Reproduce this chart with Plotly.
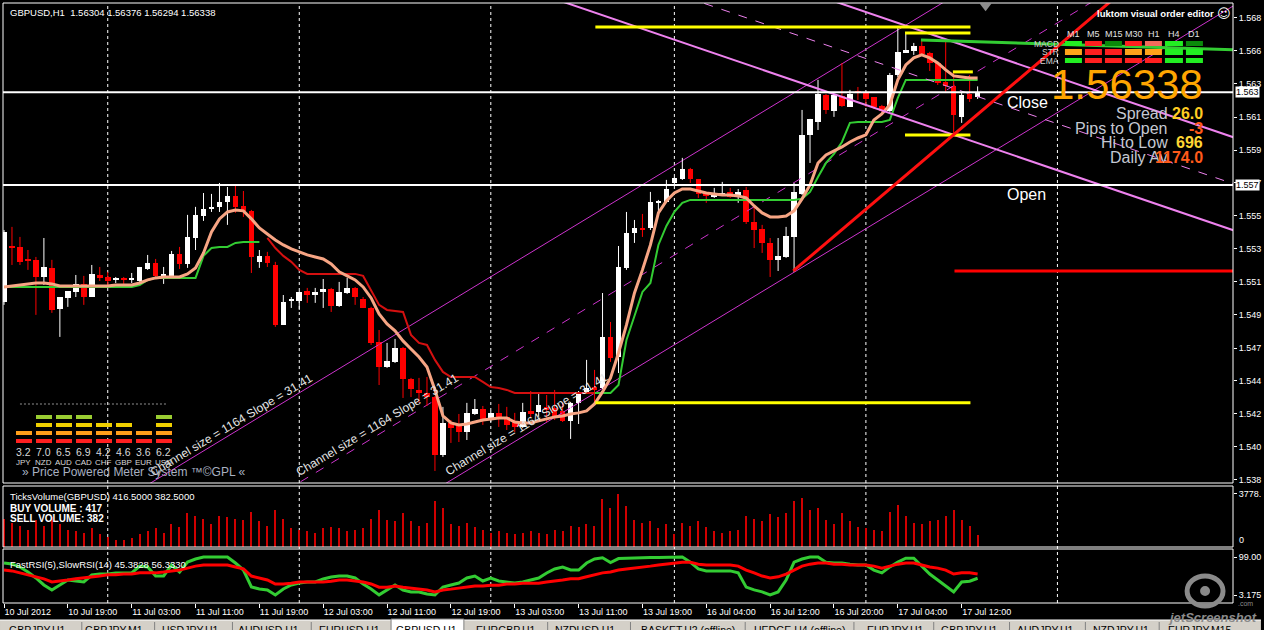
import plotly.graph_objects as go

FONT = "Liberation Sans, Arial, sans-serif"

# ---------------- data (GBPUSD H1, bar 0 = 10 Jul 2012 11:00) ----------------
DAY_SEGMENTS = [("10 Jul", 11, 23), ("11 Jul", 0, 23), ("12 Jul", 0, 23),
                ("13 Jul", 0, 22), ("16 Jul", 0, 23), ("17 Jul", 0, 14)]
TIMES = [f"{d} {h:02d}:00" for d, h0, h1 in DAY_SEGMENTS for h in range(h0, h1 + 1)]

TICK_TIMES = ["10 Jul 11:00", "10 Jul 19:00", "11 Jul 03:00", "11 Jul 11:00", "11 Jul 19:00",
              "12 Jul 03:00", "12 Jul 11:00", "12 Jul 19:00", "13 Jul 03:00", "13 Jul 11:00",
              "13 Jul 19:00", "16 Jul 04:00", "16 Jul 12:00", "16 Jul 20:00", "17 Jul 04:00",
              "17 Jul 12:00"]
TICK_TEXT = ["10 Jul 2012", "10 Jul 19:00", "11 Jul 03:00", "11 Jul 11:00", "11 Jul 19:00",
             "12 Jul 03:00", "12 Jul 11:00", "12 Jul 19:00", "13 Jul 03:00", "13 Jul 11:00",
             "13 Jul 19:00", "16 Jul 04:00", "16 Jul 12:00", "16 Jul 20:00", "17 Jul 04:00",
             "17 Jul 12:00"]

OPEN = [1.54977, 1.55340, 1.55334, 1.55256, 1.55250, 1.55139, 1.55198, 1.54932, 1.55003, 1.55042,
        1.55094, 1.55009, 1.55152, 1.55139, 1.55120, 1.55133, 1.55120, 1.55113, 1.55191, 1.55230,
        1.55146, 1.55146, 1.55289, 1.55224, 1.55392, 1.55535, 1.55581, 1.55594, 1.55626, 1.55665,
        1.55600, 1.55568, 1.55237, 1.55276, 1.55217, 1.54828, 1.54984, 1.54984, 1.55048, 1.55022,
        1.55042, 1.55061, 1.54951, 1.55035, 1.55068, 1.54996, 1.54938, 1.54717, 1.54555, 1.54588,
        1.54678, 1.54477, 1.54406, 1.54386, 1.54360, 1.53984, 1.54192, 1.54179, 1.54133, 1.54250,
        1.54283, 1.54218, 1.54257, 1.54231, 1.54198, 1.54166, 1.54270, 1.54263, 1.54296, 1.54289,
        1.54270, 1.54205, 1.54322, 1.54393, 1.54425, 1.54419, 1.54750, 1.54620, 1.55198, 1.55425,
        1.55457, 1.55457, 1.55620, 1.55626, 1.55749, 1.55775, 1.55840, 1.55775, 1.55684, 1.55658,
        1.55678, 1.55691, 1.55658, 1.55704, 1.55496, 1.55451, 1.55360, 1.55250, 1.55269, 1.55399,
        1.55678, 1.56061, 1.56145, 1.56320, 1.56217, 1.56314, 1.56243, 1.56340, 1.56333, 1.56307,
        1.56249, 1.56217, 1.56450, 1.56593, 1.56606, 1.56638, 1.56593, 1.56528, 1.56405, 1.56379,
        1.56178, 1.56327, 1.56304]
HIGH = [1.55444, 1.55464, 1.55399, 1.55314, 1.55269, 1.55392, 1.55250, 1.55009, 1.55048, 1.55152,
        1.55146, 1.55217, 1.55204, 1.55172, 1.55139, 1.55139, 1.55165, 1.55204, 1.55282, 1.55256,
        1.55204, 1.55308, 1.55334, 1.55542, 1.55594, 1.55684, 1.55678, 1.55749, 1.55723, 1.55736,
        1.55697, 1.55574, 1.55314, 1.55302, 1.55237, 1.55022, 1.55009, 1.55048, 1.55068, 1.55068,
        1.55126, 1.55068, 1.55107, 1.55133, 1.55074, 1.55009, 1.54945, 1.54795, 1.54711, 1.54737,
        1.54685, 1.54484, 1.54484, 1.54490, 1.54367, 1.54296, 1.54211, 1.54250, 1.54322, 1.54347,
        1.54302, 1.54270, 1.54315, 1.54296, 1.54257, 1.54322, 1.54399, 1.54386, 1.54373, 1.54406,
        1.54322, 1.54328, 1.54399, 1.54601, 1.54536, 1.55035, 1.54847, 1.55340, 1.55561, 1.55509,
        1.55548, 1.55691, 1.55639, 1.55769, 1.55788, 1.55912, 1.55847, 1.55775, 1.55691, 1.55717,
        1.55756, 1.55717, 1.55710, 1.55723, 1.55607, 1.55477, 1.55392, 1.55392, 1.55464, 1.55749,
        1.56223, 1.56165, 1.56418, 1.56327, 1.56327, 1.56528, 1.56353, 1.56372, 1.56340, 1.56307,
        1.56256, 1.56463, 1.56762, 1.56723, 1.56658, 1.56671, 1.56600, 1.56528, 1.56664, 1.56463,
        1.56333, 1.56450, 1.56376]
LOW = [1.54958, 1.55217, 1.55217, 1.55185, 1.54893, 1.55087, 1.54906, 1.54750, 1.54945, 1.55009,
       1.54958, 1.55009, 1.55113, 1.55087, 1.55100, 1.55094, 1.55100, 1.55107, 1.55185, 1.55126,
       1.55094, 1.55133, 1.55191, 1.55198, 1.55314, 1.55503, 1.55561, 1.55561, 1.55477, 1.55555,
       1.55529, 1.55165, 1.55198, 1.55204, 1.54815, 1.54828, 1.54938, 1.54925, 1.54971, 1.54971,
       1.54938, 1.54912, 1.54945, 1.55029, 1.54958, 1.54938, 1.54698, 1.54438, 1.54549, 1.54581,
       1.54354, 1.54360, 1.54322, 1.54302, 1.53880, 1.53971, 1.54062, 1.54068, 1.54081, 1.54244,
       1.54179, 1.54198, 1.54166, 1.54146, 1.54133, 1.54159, 1.54224, 1.54231, 1.54198, 1.54211,
       1.54198, 1.54088, 1.54185, 1.54386, 1.54322, 1.54412, 1.54588, 1.54516, 1.55185, 1.55360,
       1.55399, 1.55444, 1.55561, 1.55620, 1.55736, 1.55769, 1.55749, 1.55652, 1.55620, 1.55652,
       1.55671, 1.55652, 1.55620, 1.55483, 1.55327, 1.55295, 1.55139, 1.55178, 1.55263, 1.55172,
       1.55671, 1.55879, 1.56093, 1.56197, 1.56178, 1.56243, 1.56243, 1.56288, 1.56243, 1.56230,
       1.56204, 1.56210, 1.56437, 1.56593, 1.56580, 1.56574, 1.56476, 1.56385, 1.56333, 1.56061,
       1.56139, 1.56275, 1.56294]
CLOSE = [1.55431, 1.55327, 1.55237, 1.55243, 1.55139, 1.55204, 1.54925, 1.55009, 1.55048, 1.55094,
         1.55009, 1.55159, 1.55133, 1.55113, 1.55126, 1.55120, 1.55126, 1.55204, 1.55230, 1.55146,
         1.55152, 1.55289, 1.55224, 1.55399, 1.55542, 1.55581, 1.55594, 1.55626, 1.55665, 1.55594,
         1.55568, 1.55269, 1.55276, 1.55230, 1.54828, 1.54977, 1.54996, 1.55042, 1.55022, 1.55042,
         1.55061, 1.54951, 1.55042, 1.55068, 1.55009, 1.54938, 1.54711, 1.54555, 1.54594, 1.54678,
         1.54477, 1.54412, 1.54386, 1.54360, 1.53984, 1.54192, 1.54159, 1.54133, 1.54257, 1.54283,
         1.54211, 1.54257, 1.54224, 1.54179, 1.54166, 1.54263, 1.54250, 1.54309, 1.54276, 1.54231,
         1.54205, 1.54322, 1.54393, 1.54419, 1.54406, 1.54750, 1.54614, 1.55204, 1.55425, 1.55457,
         1.55444, 1.55626, 1.55633, 1.55710, 1.55782, 1.55840, 1.55775, 1.55678, 1.55665, 1.55684,
         1.55684, 1.55658, 1.55691, 1.55496, 1.55444, 1.55360, 1.55250, 1.55276, 1.55405, 1.55691,
         1.56061, 1.56165, 1.56327, 1.56223, 1.56320, 1.56249, 1.56327, 1.56333, 1.56294, 1.56243,
         1.56217, 1.56450, 1.56600, 1.56612, 1.56638, 1.56587, 1.56528, 1.56398, 1.56379, 1.56191,
         1.56320, 1.56294, 1.56338]

EMA_FAST = [1.55074, 1.55081, 1.55087, 1.55094, 1.55100, 1.55100, 1.55094, 1.55081, 1.55081, 1.55081,
            1.55081, 1.55081, 1.55081, 1.55081, 1.55087, 1.55087, 1.55087, 1.55100, 1.55120, 1.55133,
            1.55139, 1.55139, 1.55139, 1.55159, 1.55198, 1.55295, 1.55431, 1.55516, 1.55561, 1.55574,
            1.55568, 1.55516, 1.55457, 1.55418, 1.55379, 1.55347, 1.55321, 1.55302, 1.55282, 1.55269,
            1.55256, 1.55224, 1.55172, 1.55146, 1.55120, 1.55074, 1.55003, 1.54899, 1.54834, 1.54789,
            1.54724, 1.54672, 1.54620, 1.54555, 1.54406, 1.54237, 1.54192, 1.54179, 1.54185, 1.54198,
            1.54211, 1.54218, 1.54224, 1.54224, 1.54198, 1.54192, 1.54192, 1.54205, 1.54218, 1.54231,
            1.54237, 1.54250, 1.54257, 1.54270, 1.54315, 1.54393, 1.54484, 1.54646, 1.54828, 1.55035,
            1.55185, 1.55347, 1.55555, 1.55633, 1.55684, 1.55710, 1.55710, 1.55697, 1.55684, 1.55678,
            1.55671, 1.55671, 1.55665, 1.55652, 1.55600, 1.55555, 1.55529, 1.55529, 1.55535, 1.55568,
            1.55646, 1.55736, 1.55879, 1.55931, 1.55957, 1.55983, 1.56015, 1.56041, 1.56061, 1.56158,
            1.56197, 1.56256, 1.56418, 1.56515, 1.56561, 1.56580, 1.56561, 1.56528, 1.56483, 1.56444,
            1.56437, 1.56431, 1.56431]

N = None
STOP_UP = [1.55074] * 17 + [1.55087, 1.55120] + [1.55133] * 6 + \
          [1.55276, 1.55327, 1.55334, 1.55334, 1.55360, 1.55366, 1.55366, 1.55366] + [N] * 41 + \
          [1.54386, 1.54386, 1.54386, 1.54438, 1.54730, 1.54886, 1.55042, 1.55100, 1.55347, 1.55470,
           1.55561, 1.55620] + [1.55639] * 14 + \
          [1.55646, 1.55691, 1.55788, 1.55879, 1.55938, 1.56015, 1.56139] + [1.56145] * 4 + \
          [1.56158, 1.56301] + [1.56418] * 10
STOP_DN = [N] * 33 + [1.55392, 1.55327, 1.55276, 1.55237, 1.55185] + [1.55159] * 7 + \
          [1.55146, 1.55055, 1.54958, 1.54925, 1.54919, 1.54912, 1.54763, 1.54711, 1.54698, 1.54601,
           1.54523] + [1.54490] * 4 + [1.54458, 1.54425, 1.54419, 1.54406] + [1.54386] * 11 + [N] * 48

VOLUME = [2000, 1700, 1450, 1200, 1900, 1500, 2100, 1600, 1200, 1100,
          1000, 1300, 900, 700, 500, 450, 600, 900, 1100, 1300,
          1000, 1600, 1400, 2400, 2200, 2000, 1600, 2200, 2100, 2000,
          1900, 2500, 1800, 1500, 2600, 2000, 1300, 1200, 1100, 1000,
          1300, 1400, 1300, 1100, 1200, 1300, 2000, 2600, 1900, 1800,
          2400, 1800, 1500, 1700, 3300, 2800, 1600, 1500, 1700, 1400,
          1200, 1000, 1100, 1000, 900, 1000, 1100, 1000, 900, 1200,
          1100, 1500, 1400, 1600, 1500, 3400, 2800, 3778, 2900, 1900,
          1700, 1800, 1300, 1600, 900, 1700, 1500, 1800, 1400, 1100,
          1000, 1100, 1200, 2200, 2000, 1800, 2300, 2100, 2400, 3300,
          3500, 2600, 2800, 1900, 1600, 2400, 1800, 1400, 1300, 1200,
          1100, 2500, 3000, 2200, 1700, 1600, 1800, 1900, 2200, 2600,
          1900, 1500, 799]

RSI_FAST = [83.9, 81.4, 73.8, 61.2, 46.1, 28.4, 15.8, 28.4, 41.0, 38.5,
            36.0, 53.6, 56.2, 56.2, 58.7, 58.7, 58.7, 76.3, 73.8, 51.1,
            51.1, 78.8, 61.2, 86.4, 94.0, 99.0, 99.0, 98.5, 99.0, 83.9,
            66.2, 23.4, 18.4, 15.8, 3.2, 18.4, 28.4, 33.5, 36.0, 36.0,
            43.6, 48.6, 51.1, 51.1, 46.1, 31.0, 18.4, 3.5, 15.8, 28.4,
            15.8, 10.8, 10.8, 5.8, 3.175, 23.4, 28.4, 33.5, 46.1, 51.1,
            38.5, 46.1, 38.5, 36.0, 33.5, 36.0, 41.0, 46.1, 58.7, 68.8,
            73.8, 66.2, 66.2, 83.9, 94.0, 97.0, 85.0, 95.0, 96.0, 97.0,
            98.0, 98.0, 98.0, 98.0, 99.0, 99.0, 86.0, 69.0, 64.0, 64.0,
            64.0, 64.0, 59.0, 23.0, 16.0, 11.0, 3.5, 11.0, 41.0, 86.0,
            94.0, 99.0, 99.0, 86.0, 84.0, 84.0, 81.0, 79.0, 79.0, 66.0,
            59.0, 74.0, 86.0, 96.0, 96.0, 76.0, 56.0, 41.0, 26.0, 11.0,
            36.0, 38.0, 45.3828]
RSI_SLOW = [66, 64, 59, 54, 49, 44, 36, 38, 41, 44,
            46, 49, 51, 54, 54, 56, 56, 59, 59, 59,
            61, 64, 66, 71, 76, 79, 79, 79, 79, 74,
            69, 51, 46, 41, 31, 31, 33, 36, 36, 36,
            36, 38, 41, 41, 38, 36, 31, 23, 23, 26,
            23, 21, 18, 16, 11, 16, 18, 21, 23, 26,
            26, 28, 28, 31, 31, 33, 33, 33, 36, 38,
            41, 44, 44, 49, 54, 59, 61, 66, 69, 71,
            74, 76, 79, 81, 84, 86, 86, 81, 79, 79,
            79, 79, 76, 66, 59, 51, 46, 49, 56, 66,
            76, 81, 84, 84, 81, 81, 79, 79, 79, 76,
            71, 76, 81, 84, 84, 79, 74, 71, 66, 56,
            59, 59, 56.333]

PRICE_TICK_TEXT = ["1.568", "1.566", "1.563", "1.561", "1.559", "1.557", "1.555", "1.553",
                   "1.551", "1.549", "1.547", "1.544", "1.542", "1.540", "1.538"]
PRICE_TICK_VALS = [1.56820, 1.56606, 1.56392, 1.56177, 1.55963, 1.55749, 1.55535, 1.55321,
                   1.55107, 1.54893, 1.54678, 1.54464, 1.54250, 1.54036, 1.53822]

LAST_CLOSE = 1.56338
DAY_OPEN = 1.55736

# drawn chart objects
ASC_CH = dict(bar=62, upper=1.55172, slope=0.000314, size=0.01164)
DESC_CH = dict(bar=124.5, upper=1.56567, slope=-0.0001765, size=0.00603)
TREND = dict(bar=98.9, price=1.55178, slope=0.00044)
YELLOW_LEVELS = [1.56762, 1.56723, 1.56470, 1.56061, 1.54322]
YELLOW_FROM = [74.1, 112.9, 118.9, 112.9, 74.1]
YELLOW_TO = [121.1, 121.1, 121.4, 121.1, 121.1]
RED_LEVEL = dict(price=1.55178, start=119.1)
GREEN_SEG = dict(x=[114.9, 154.5], y=[1.56677, 1.56612])

# info panel
PANEL_TF = ["M1", "M5", "M15", "M30", "H1", "H4", "D1"]
PANEL_ROWS = ["MACD", "STR", "EMA"]
PANEL_STATE = [[1, 0, 2, 0, 4, 1, 2],
               [3, 0, 0, 3, 3, 1, 1],
               [1, 0, 0, 0, 0, 1, 1]]
STATS_LABELS = ["Spread", "Pips to Open", "Hi to Low", "Daily Av"]
STATS_VALUES = ["26.0", "-3", "696", "1174.0"]

METER_CCY = ["JPY", "NZD", "AUD", "CAD", "CHF", "GBP", "EUR", "USD"]
METER_VAL = [3.2, 7.0, 6.5, 6.9, 4.2, 4.6, 3.6, 6.2]
METER_SEG = [2, 4, 4, 4, 3, 3, 2, 4]

TABS = ["GBPJPY,H1", "GBPJPY,M1", "USDJPY,H1", "AUDUSD,H1", "EURUSD,H1", "GBPUSD,H1",
        "EURGBP,H1", "NZDUSD,H1", "BASKET,H2 (offline)", "HEDGE,H4 (offline)", "EURJPY,H1",
        "GBPJPY,H1", "AUDJPY,H1", "NZDJPY,H1", "EURJPY,M15"]

# ---------------- layout geometry ----------------
W, H = 1264, 630
ML, MR, MT, MB = 3, 28, 3, 27
PW, PH = W - ML - MR, H - MT - MB


def fx(px):
    return (px - ML) / PW


def fy(py):
    return (H - MB - py) / PH


idx = list(range(len(OPEN)))
TICK_VALS = [TIMES.index(t) for t in TICK_TIMES]
DAY_STARTS = [i for i, t in enumerate(TIMES) if t.endswith(" 00:00")]
DAY_STARTS.append(DAY_STARTS[-1] + 24)

fig = go.Figure()

# ascending regression channel (thin magenta)
for k, dash in [(0, "solid"), (0.5, "dash"), (1, "solid")]:
    xs = [-40, 160]
    ys = [ASC_CH["upper"] - k * ASC_CH["size"] + ASC_CH["slope"] * (x - ASC_CH["bar"]) for x in xs]
    fig.add_trace(go.Scatter(x=xs, y=ys, mode="lines", line=dict(color="#cc33cc", width=1, dash=dash),
                             hoverinfo="skip"))

# candles
bull = [i for i in idx if CLOSE[i] >= OPEN[i]]
bear = [i for i in idx if CLOSE[i] < OPEN[i]]
for ids, col in [(bull, "#ffffff"), (bear, "#ff0000")]:
    wx, wy = [], []
    for i in ids:
        wx += [i, i, None]
        wy += [LOW[i], HIGH[i], None]
    fig.add_trace(go.Scatter(x=wx, y=wy, mode="lines", line=dict(color=col, width=1), hoverinfo="skip"))
    fig.add_trace(go.Bar(x=ids, base=[min(OPEN[i], CLOSE[i]) for i in ids],
                         y=[max(abs(CLOSE[i] - OPEN[i]), 0.00005) for i in ids],
                         width=0.7, marker=dict(color=col, line=dict(width=0)), hoverinfo="skip"))

# indicators on price
fig.add_trace(go.Scatter(x=idx, y=STOP_UP, mode="lines", line=dict(color="#33cc33", width=2),
                         connectgaps=False, hoverinfo="skip"))
fig.add_trace(go.Scatter(x=idx, y=STOP_DN, mode="lines", line=dict(color="#d41010", width=2),
                         connectgaps=False, hoverinfo="skip"))
fig.add_trace(go.Scatter(x=idx, y=EMA_FAST, mode="lines", line=dict(color="#f7a584", width=3),
                         hoverinfo="skip"))

# descending channel (violet)
for k, dash, wdt in [(0, "solid", 2), (0.5, "dash", 1), (1, "solid", 2)]:
    xs = [60, 160]
    ys = [DESC_CH["upper"] - k * DESC_CH["size"] + DESC_CH["slope"] * (x - DESC_CH["bar"]) for x in xs]
    fig.add_trace(go.Scatter(x=xs, y=ys, mode="lines",
                             line=dict(color="#ee82ee", width=wdt, dash=dash), hoverinfo="skip"))

# horizontal white lines (close / open)
for lvl in (LAST_CLOSE, DAY_OPEN):
    fig.add_trace(go.Scatter(x=[-5, 160], y=[lvl, lvl], mode="lines", line=dict(color="white", width=2),
                             hoverinfo="skip"))

# yellow levels
yx, yy = [], []
for lvl, a, b in zip(YELLOW_LEVELS, YELLOW_FROM, YELLOW_TO):
    yx += [a, b, None]
    yy += [lvl, lvl, None]
fig.add_trace(go.Scatter(x=yx, y=yy, mode="lines", line=dict(color="#ffff00", width=3), hoverinfo="skip"))

# green sloped segment
fig.add_trace(go.Scatter(x=GREEN_SEG["x"], y=GREEN_SEG["y"], mode="lines",
                         line=dict(color="#33cc33", width=3), hoverinfo="skip"))
# red level + trendline
fig.add_trace(go.Scatter(x=[RED_LEVEL["start"], 160], y=[RED_LEVEL["price"]] * 2, mode="lines",
                         line=dict(color="#ff0000", width=3), hoverinfo="skip"))
tx = [TREND["bar"], 160]
fig.add_trace(go.Scatter(x=tx, y=[TREND["price"] + TREND["slope"] * (x - TREND["bar"]) for x in tx],
                         mode="lines", line=dict(color="#ff1010", width=3), hoverinfo="skip"))
# grey arrow marker at top
fig.add_trace(go.Scatter(x=[123], y=[1.56896], mode="markers",
                         marker=dict(symbol="triangle-down", size=10, color="#8c8c8c"), hoverinfo="skip"))

# volume pane
fig.add_trace(go.Bar(x=idx, y=VOLUME, yaxis="y2", width=0.15,
                     marker=dict(color="#d00000", line=dict(width=0)), hoverinfo="skip"))

# RSI pane
fig.add_trace(go.Scatter(x=idx, y=RSI_FAST, yaxis="y3", mode="lines",
                         line=dict(color="#33cc33", width=3), hoverinfo="skip"))
fig.add_trace(go.Scatter(x=idx, y=RSI_SLOW, yaxis="y3", mode="lines",
                         line=dict(color="#ff0000", width=3), hoverinfo="skip"))

# info panel blocks (heatmap)
STATE_COLORS = ["#ff1f1f", "#22ee22", "#0a8a0a", "#ffa31a", "#f26b5b"]
cs = []
for k, c in enumerate(STATE_COLORS):
    cs += [[k / 5, c], [(k + 1) / 5, c]]
fig.add_trace(go.Heatmap(z=PANEL_STATE, x=list(range(len(PANEL_TF))), y=list(range(len(PANEL_ROWS))),
                         xaxis="x2", yaxis="y4", zmin=-0.5, zmax=4.5, colorscale=cs, showscale=False,
                         xgap=3, ygap=3, hoverinfo="skip"))

# currency meter
LEVEL_COLORS = ["#ff2020", "#ff9f1a", "#f0d000", "#9acd32"]
for lvl in range(1, 5):
    xs = [i for i in range(len(METER_CCY)) if METER_SEG[i] >= lvl]
    fig.add_trace(go.Bar(x=xs, y=[0.55] * len(xs), base=[lvl - 1 + 0.22] * len(xs), width=0.8,
                         xaxis="x3", yaxis="y5", marker=dict(color=LEVEL_COLORS[lvl - 1], line=dict(width=0)),
                         hoverinfo="skip"))

# ---------------- layout ----------------
axis_common = dict(showgrid=False, zeroline=False, fixedrange=True)
tickfont = dict(color="white", size=9, family=FONT)

fig.update_layout(
    width=W, height=H, margin=dict(l=ML, r=MR, t=MT, b=MB),
    paper_bgcolor="black", plot_bgcolor="rgba(0,0,0,0)",
    showlegend=False, barmode="overlay", bargap=0,
    font=dict(family=FONT, color="white"),
    xaxis=dict(domain=[0, 1], range=[-0.125, 154], anchor="y3", tickvals=TICK_VALS, ticktext=TICK_TEXT,
               ticklabelposition="outside right", ticks="outside", ticklen=4, tickcolor="white",
               tickfont=tickfont, **axis_common),
    yaxis=dict(domain=[fy(483), fy(3)], range=[1.53802, 1.56917], anchor="x", side="right",
               tickvals=PRICE_TICK_VALS, ticktext=PRICE_TICK_TEXT, ticks="outside", ticklen=3,
               tickcolor="white", tickfont=tickfont, **axis_common),
    yaxis2=dict(domain=[fy(547), fy(486)], range=[-30, 4341], anchor="x", side="right",
                tickvals=[3778], ticktext=["3778."], ticks="outside", ticklen=3, tickcolor="white",
                tickfont=tickfont, **axis_common),
    yaxis3=dict(domain=[fy(603), fy(549)], range=[-17.0, 119.2], anchor="x", side="right",
                tickvals=[3.175, 99], ticktext=["3.175", "99.00"], ticks="outside", ticklen=3,
                tickcolor="white", tickfont=tickfont, **axis_common),
    xaxis2=dict(domain=[fx(1066.5), fx(1207.5)], range=[-0.5, 6.5], anchor="y4", visible=False, **axis_common),
    yaxis4=dict(domain=[fy(65), fy(40)], range=[2.5, -0.5], anchor="x2", visible=False, **axis_common),
    xaxis3=dict(domain=[fx(14), fx(174)], range=[-0.5, 7.5], anchor="y5", visible=False, **axis_common),
    yaxis5=dict(domain=[fy(445), fy(413)], range=[0, 4], anchor="x3", visible=False, **axis_common),
)

shapes = []
# pane frames
for top, bot in [(3, 483), (486, 547), (549, 603)]:
    shapes.append(dict(type="rect", xref="paper", yref="paper", x0=0, x1=1, y0=fy(bot), y1=fy(top),
                       line=dict(color="white", width=1), fillcolor="rgba(0,0,0,0)", layer="above"))
# day separators
for d in DAY_STARTS:
    shapes.append(dict(type="line", xref="x", yref="paper", x0=d, x1=d, y0=0, y1=1,
                       line=dict(color="white", width=1, dash="3px,3px"), layer="below"))
# meter dashed line
shapes.append(dict(type="line", xref="paper", yref="paper", x0=fx(20), x1=fx(167), y0=fy(404), y1=fy(404),
                   line=dict(color="#909090", width=1, dash="2px,2px")))
# tab bar
shapes.append(dict(type="rect", xref="paper", yref="paper", x0=fx(0), x1=fx(1264), y0=fy(631), y1=fy(620),
                   fillcolor="#d4d0c8", line=dict(width=0)))
shapes.append(dict(type="line", xref="paper", yref="paper", x0=fx(0), x1=fx(1264), y0=fy(620), y1=fy(620),
                   line=dict(color="#ffffff", width=1)))
shapes.append(dict(type="rect", xref="paper", yref="paper", x0=fx(392), x1=fx(465), y0=fy(631), y1=fy(619),
                   fillcolor="#ffffff", line=dict(color="#808080", width=1)))
for sx in [82, 155, 233, 312, 549, 632, 747, 856, 936, 1012, 1088, 1162]:
    shapes.append(dict(type="line", xref="paper", yref="paper", x0=fx(sx), x1=fx(sx), y0=fy(630), y1=fy(622),
                       line=dict(color="#808080", width=1)))
# jetscreenshot icon
shapes.append(dict(type="circle", xref="paper", yref="paper", x0=fx(1190), x1=fx(1226), y0=fy(606), y1=fy(576),
                   line=dict(color="#8a8a8a", width=5)))
shapes.append(dict(type="circle", xref="paper", yref="paper", x0=fx(1203), x1=fx(1213), y0=fy(596), y1=fy(586),
                   fillcolor="#8a8a8a", line=dict(width=0)))
fig.update_layout(shapes=shapes)

ann = []


def note(text, x, y, size=9.5, color="white", xanchor="left", yanchor="middle", **kw):
    d = dict(text=text, xref="paper", yref="paper", x=fx(x), y=fy(y), showarrow=False,
             xanchor=xanchor, yanchor=yanchor, font=dict(size=size, color=color, family=kw.pop("family", FONT),
                                                          **kw.pop("fontkw", {})))
    d.update(kw)
    ann.append(d)


note("GBPUSD,H1\u00a0 1.56304 1.56376 1.56294 1.56338", 8, 12)
note("luktom visual order editor", 1219, 13, size=9.5, xanchor="right", fontkw=dict(weight="bold"))
note("\u263a", 1227, 13, size=13, xanchor="center", family="DejaVu Sans")
for k, tf in enumerate(PANEL_TF):
    note(tf, 1076.5 + k * 20.14, 34, size=9, color="#e0e0e0", xanchor="center")
for k, r in enumerate(PANEL_ROWS):
    note(r, 1064, 44 + k * 8.3, size=8.5, color="#d0d0d0", xanchor="right")
note(f"{LAST_CLOSE:.5f}", 1208, 84, size=42, color="#ffa500", xanchor="right")
STAT_COLORS = ["#ffcc22", "#ff5a1a", "#ffd633", "#ff5a1a"]
for k, (lab, val) in enumerate(zip(STATS_LABELS, STATS_VALUES)):
    note(lab, 1173, 113 + 15 * k, size=16, color="#c4c8d2", xanchor="right")
    note(val, 1208, 113 + 15 * k, size=16, color=STAT_COLORS[k], xanchor="right", fontkw=dict(weight="bold"))
note("Close", 1007, 102, size=16)
note("Open", 1007, 194, size=16)

# highlighted price labels
for lvl, txt in [(LAST_CLOSE, "1.563"), (DAY_OPEN, "1.557")]:
    ann.append(dict(text=txt, xref="paper", yref="y", x=1, y=lvl, xshift=2, showarrow=False,
                    xanchor="left", yanchor="middle", bgcolor="white", borderpad=0,
                    font=dict(size=9, color="black", family=FONT)))

# channel labels
for cx, cy in [(232, 425), (378, 425), (528, 424)]:
    note("Channel size = 1164 Slope = 31.41", cx, cy, size=12, color="#e6e6e6", xanchor="center",
         textangle=-31)

# meter text (columns 20 px apart, first centred at x=24)
for i, (c, v) in enumerate(zip(METER_CCY, METER_VAL)):
    note(f"{v:.1f}", 24 + 20 * i, 452, size=10.5, color="#d8d8d8", xanchor="center")
    note(c, 24 + 20 * i, 462, size=8, color="#d8d8d8", xanchor="center")
note("\u00bb Price Powered Meter System \u2122\u00a9GPL \u00ab", 20, 472, size=12, color="#a8b0c0")

# volume / rsi pane texts
note("TicksVolume(GBPUSD) 416.5000 382.5000", 8, 496)
note("BUY VOLUME : 417", 8, 508, size=10, fontkw=dict(weight="bold"))
note("SELL VOLUME: 382", 8, 518, size=10, fontkw=dict(weight="bold"))
note("0", 1240, 540, size=9)
note("FastRSI(5),SlowRSI(14) 45.3828 56.3330", 8, 564)

# tabs
TAB_CENTERS = [38, 114, 191, 269, 350, 428, 507, 586, 690, 801, 898, 972, 1048, 1124, 1203]
for t, cxp in zip(TABS, TAB_CENTERS):
    note(t, cxp, 629.5, size=10.5, color="black", xanchor="center")

# jetscreenshot
note("jetScreenshot", 1262, 617, size=13, color="#8a8a8a", xanchor="right",
     fontkw=dict(style="italic", weight="bold"))
note(".com", 1258, 603, size=7, color="#8a8a8a", xanchor="right")

fig.update_layout(annotations=ann)
fig.write_html("out.html", config={"displayModeBar": False},
               post_script="document.body.style.margin='0px';document.body.style.overflow='hidden';")
